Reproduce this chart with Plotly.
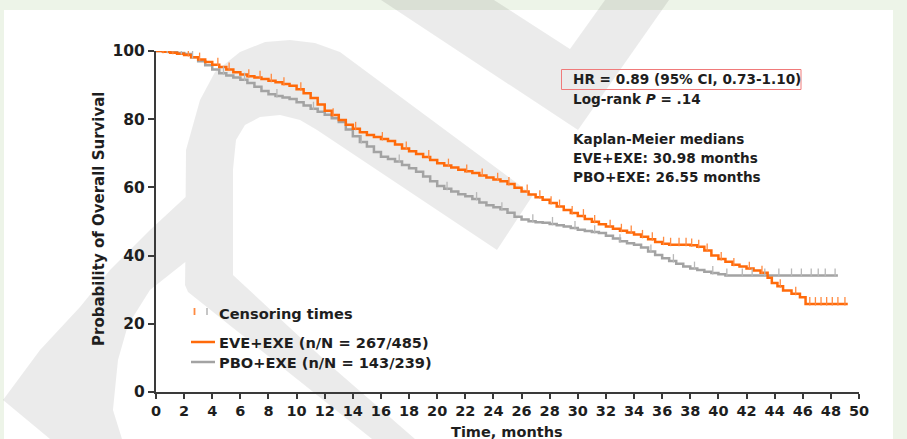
import numpy as np
import plotly.graph_objects as go

# ---------------- data ----------------
eve_t = [0, 0.5, 1, 1.5, 2, 2.5, 3, 3.5, 4, 4.5, 5, 5.5, 6, 6.5, 7, 7.5, 8, 8.5, 9, 9.5,
         10, 10.5, 11, 11.5, 12, 12.5, 13, 13.5, 14, 14.5, 15, 15.5, 16, 16.5, 17, 17.5,
         18, 18.5, 19, 19.5, 20, 20.5, 21, 21.5, 22, 22.5, 23, 23.5, 24, 24.5, 25, 25.5,
         26, 26.5, 27, 27.5, 28, 28.5, 29, 29.5, 30, 30.5, 31, 31.5, 32, 32.5, 33, 33.5,
         34, 34.5, 35, 35.5, 36, 36.5, 38, 38.5, 39, 39.5, 40, 40.5, 41, 41.5, 42, 42.5,
         43, 43.5, 43.8, 44.2, 44.6, 45.2, 45.8, 46.2, 49.2]
eve_s = [100, 99.8, 99.5, 99.2, 98.8, 98.2, 97.5, 96.8, 96.0, 95.3, 94.6, 93.8, 93.1, 92.6,
         92.2, 91.8, 91.3, 90.8, 90.3, 89.8, 88.8, 87.6, 86.2, 84.3, 82.5, 81.2, 79.8, 78.4,
         77.2, 76.2, 75.4, 74.8, 74.2, 73.6, 72.6, 71.4, 70.6, 69.8, 68.9, 68.0, 67.1, 66.4,
         65.8, 65.2, 64.7, 64.2, 63.5, 62.9, 62.3, 61.8, 61.0, 59.9, 58.8, 57.9, 57.1, 56.4,
         55.4, 54.4, 53.4, 52.5, 51.6, 50.7, 49.9, 49.2, 48.5, 47.9, 47.3, 46.8, 46.2, 45.5,
         44.8, 44.0, 43.5, 43.2, 43.0, 42.6, 41.5, 40.0, 39.0, 38.2, 37.3, 36.8, 36.2, 35.6,
         35.0, 33.5, 32.0, 31.0, 29.8, 28.8, 27.8, 25.8, 25.8]

pbo_t = [0, 0.5, 1, 1.5, 2, 2.5, 3, 3.5, 4, 4.5, 5, 5.5, 6, 6.5, 7, 7.5, 8, 8.5, 9, 9.5,
         10, 10.5, 11, 11.5, 12, 12.5, 13, 13.5, 14, 14.5, 15, 15.5, 16, 16.5, 17, 17.5,
         18, 18.5, 19, 19.5, 20, 20.5, 21, 21.5, 22, 22.5, 23, 23.5, 24, 24.5, 25, 25.5,
         26, 26.5, 27, 27.5, 28, 28.5, 29, 29.5, 30, 30.5, 31, 31.5, 32, 32.5, 33, 33.5,
         34, 34.5, 35, 35.5, 36, 36.5, 37, 37.5, 38, 38.5, 39, 39.5, 40, 40.5, 48.5]
pbo_s = [100, 99.8, 99.6, 99.4, 99.1, 98.2, 97.0, 95.8, 94.6, 93.5, 92.8, 92.2, 91.6, 90.6,
         89.5, 88.3, 87.3, 86.8, 86.4, 85.9, 85.0, 84.0, 83.1, 82.2, 81.3, 80.3, 79.2, 77.0,
         75.0, 73.3, 72.0, 70.4, 69.0, 68.3, 67.6, 66.6, 65.6, 64.6, 63.2, 61.8, 60.4, 59.6,
         58.8, 58.0, 57.4, 56.6, 55.6, 54.8, 54.2, 53.6, 52.6, 51.4, 50.6, 50.1, 49.8, 49.6,
         49.3, 48.9, 48.5, 48.1, 47.6, 47.2, 46.9, 46.6, 45.8, 45.0, 44.2, 43.6, 43.2, 42.4,
         41.2, 40.2, 39.2, 38.4, 37.6, 36.8, 36.2, 35.8, 35.3, 34.9, 34.5, 34.2, 34.2]

eve_cens = [0.5, 1.2, 2.3, 3.1, 4.4, 5.2, 6.6, 7.4, 8.2, 9.1, 10.3, 12.6, 14.2, 16.1, 17.8,
            19.4, 20.8, 22.1, 23.2, 24.3, 25.1, 26.4, 27.3, 28.1, 28.7, 29.6, 30.4, 31.2,
            32.3, 33.1, 33.8, 34.6, 35.3, 36.1, 36.6, 37.2, 37.7, 38.1, 38.6, 39.2, 40.2,
            41.1, 42.2, 43.1, 44.4, 45.5, 46.5, 46.9, 47.3, 47.7, 48.1, 48.5, 49.0]
pbo_cens = [0.8, 1.8, 2.6, 4.8, 6.3, 8.6, 11.2, 14.6, 17.3, 20.7, 22.8, 24.6, 26.8, 28.2,
            29.8, 31.2, 33.0, 35.2, 36.8, 38.3, 39.6, 40.6, 41.7, 42.4, 43.3, 44.3, 45.2,
            45.9, 46.6, 47.1, 47.6, 48.3]

x_ticks = list(range(0, 51, 2))
y_ticks = [0, 20, 40, 60, 80, 100]

series_names = ["EVE+EXE (n/N = 267/485)", "PBO+EXE (n/N = 143/239)"]
stats_lines = ["HR = 0.89 (95% CI, 0.73-1.10)", "Log-rank <i>P</i> = .14", "",
               "Kaplan-Meier medians", "EVE+EXE: 30.98 months", "PBO+EXE: 26.55 months"]

ORANGE = "#FF6A0A"
GRAY = "#A3A3A3"
TXT = "#1E1E1E"
AX = "#3A3A3A"
FONT = "DejaVu Sans"

# ---------------- geometry helpers ----------------
W, H = 907, 439
L, R, T, B = 156, 859, 51, 392


def ppx(x):
    return (x - L) / (R - L)


def ppy(y):
    return (B - y) / (B - T)


def step_at(ts, ss, q):
    ts = np.asarray(ts)
    ss = np.asarray(ss)
    idx = np.searchsorted(ts, q, side="right") - 1
    return ss[np.clip(idx, 0, len(ss) - 1)]


fig = go.Figure()

fig.add_trace(go.Scatter(x=pbo_t, y=pbo_s, mode="lines", line_shape="hv",
                         line=dict(color=GRAY, width=2.5), showlegend=False))
fig.add_trace(go.Scatter(x=eve_t, y=eve_s, mode="lines", line_shape="hv",
                         line=dict(color=ORANGE, width=2.5), showlegend=False))
fig.add_trace(go.Scatter(x=pbo_cens, y=step_at(pbo_t, pbo_s, pbo_cens) + 0.8, mode="markers",
                         marker=dict(symbol="line-ns", size=6,
                                     line=dict(color="#B8B8B8", width=1.3)),
                         showlegend=False))
fig.add_trace(go.Scatter(x=eve_cens, y=step_at(eve_t, eve_s, eve_cens) + 0.8, mode="markers",
                         marker=dict(symbol="line-ns", size=6,
                                     line=dict(color="#FF8A40", width=1.3)),
                         showlegend=False))

# ---------------- background: frame + watermark ----------------
shapes = []
shapes.append(dict(type="rect", xref="paper", yref="paper", layer="below",
                   x0=ppx(4), x1=ppx(893), y0=ppy(10), y1=ppy(439),
                   fillcolor="white", line=dict(width=0)))

polys = [
    # top "V"
    [(381, 0), (494, 0), (570, 49), (605, 0), (669, 0), (578, 130)],
    # large hook: lower-left sweep + arch + diagonal legs (one outline, no overlaps)
    [(372, 439), (188, 292), (185, 285), (185.3, 262),
     (150, 290), (128, 325), (118, 360), (113, 410), (122, 439), (50, 439), (3, 400),
     (40, 350), (80, 307), (110, 270), (150, 230), (185.6, 197),
     (186, 150), (200, 100), (215, 72), (240, 52), (265, 42), (290, 40),
     (315, 43), (340, 52), (533, 195), (497, 250), (317, 130), (300, 120), (280, 115),
     (260, 117), (245, 125), (236, 140), (233, 170), (233, 275), (330, 365), (415, 439)],
]

path = ""
for poly in polys:
    pts = [f"{ppx(x):.5f},{ppy(y):.5f}" for x, y in poly]
    path += "M " + " L ".join(pts) + " Z "
shapes.append(dict(type="path", xref="paper", yref="paper", layer="below", path=path,
                   fillcolor="rgba(0,0,0,0.08)", line=dict(width=0)))

# red box around HR line
shapes.append(dict(type="rect", xref="paper", yref="paper", layer="above",
                   x0=ppx(561.5), x1=ppx(801), y0=ppy(69.5), y1=ppy(89.5),
                   fillcolor="rgba(0,0,0,0)", line=dict(color="#F07A7A", width=1)))

# legend samples
shapes.append(dict(type="line", xref="paper", yref="paper", x0=ppx(191), x1=ppx(215),
                   y0=ppy(342), y1=ppy(342), line=dict(color=ORANGE, width=2.5)))
shapes.append(dict(type="line", xref="paper", yref="paper", x0=ppx(191), x1=ppx(215),
                   y0=ppy(362), y1=ppy(362), line=dict(color=GRAY, width=2.5)))
shapes.append(dict(type="line", xref="paper", yref="paper", x0=ppx(194.5), x1=ppx(194.5),
                   y0=ppy(308), y1=ppy(315), line=dict(color="#FF8A40", width=1.8)))
shapes.append(dict(type="line", xref="paper", yref="paper", x0=ppx(207), x1=ppx(207),
                   y0=ppy(308), y1=ppy(315), line=dict(color="#C0C0C0", width=1.8)))

# ---------------- text ----------------
ann = []
stat_y = [79, 98.5, 118, 138.5, 157.5, 177]
for s, y in zip(stats_lines, stat_y):
    if s:
        ann.append(dict(text=s, x=ppx(571), y=ppy(y), xref="paper", yref="paper",
                        xanchor="left", yanchor="middle", showarrow=False,
                        font=dict(family=FONT, size=13.6, color=TXT, weight="bold")))

leg = [("Censoring times", 313), (series_names[0], 342), (series_names[1], 362)]
for s, y in leg:
    ann.append(dict(text=s, x=ppx(217), y=ppy(y), xref="paper", yref="paper",
                    xanchor="left", yanchor="middle", showarrow=False,
                    font=dict(family=FONT, size=14.6, color=TXT, weight="bold")))

ann.append(dict(text="Probability of Overall Survival", x=ppx(99), y=ppy(219),
                xref="paper", yref="paper", xanchor="center", yanchor="middle",
                textangle=-90, showarrow=False,
                font=dict(family=FONT, size=15, color=TXT, weight="bold")))
ann.append(dict(text="Time, months", x=ppx(507), y=ppy(432), xref="paper", yref="paper",
                xanchor="center", yanchor="middle", showarrow=False,
                font=dict(family=FONT, size=14.5, color=TXT, weight="bold")))

fig.update_layout(
    width=W, height=H,
    margin=dict(l=L, r=W - R, t=T, b=H - B, pad=0),
    paper_bgcolor="#EDF4E8", plot_bgcolor="rgba(0,0,0,0)",
    shapes=shapes, annotations=ann, showlegend=False,
)
fig.update_xaxes(range=[0, 50], tickvals=x_ticks, ticktext=[str(v) for v in x_ticks],
                 ticks="outside", ticklen=5, tickwidth=2, tickcolor=AX,
                 showline=True, linecolor=AX, linewidth=2, showgrid=False, zeroline=False,
                 tickfont=dict(family=FONT, size=14.5, color=TXT, weight="bold"))
fig.update_yaxes(range=[0, 100], tickvals=y_ticks, ticktext=[str(v) for v in y_ticks],
                 ticks="outside", ticklen=6, tickwidth=2, tickcolor=AX,
                 showline=True, linecolor=AX, linewidth=2, showgrid=False, zeroline=False,
                 tickfont=dict(family=FONT, size=15.5, color=TXT, weight="bold"))

fig.write_html("out.html", config={"displayModeBar": False},
               post_script="document.body.style.margin='0';"
                           "document.body.style.overflow='hidden';")
